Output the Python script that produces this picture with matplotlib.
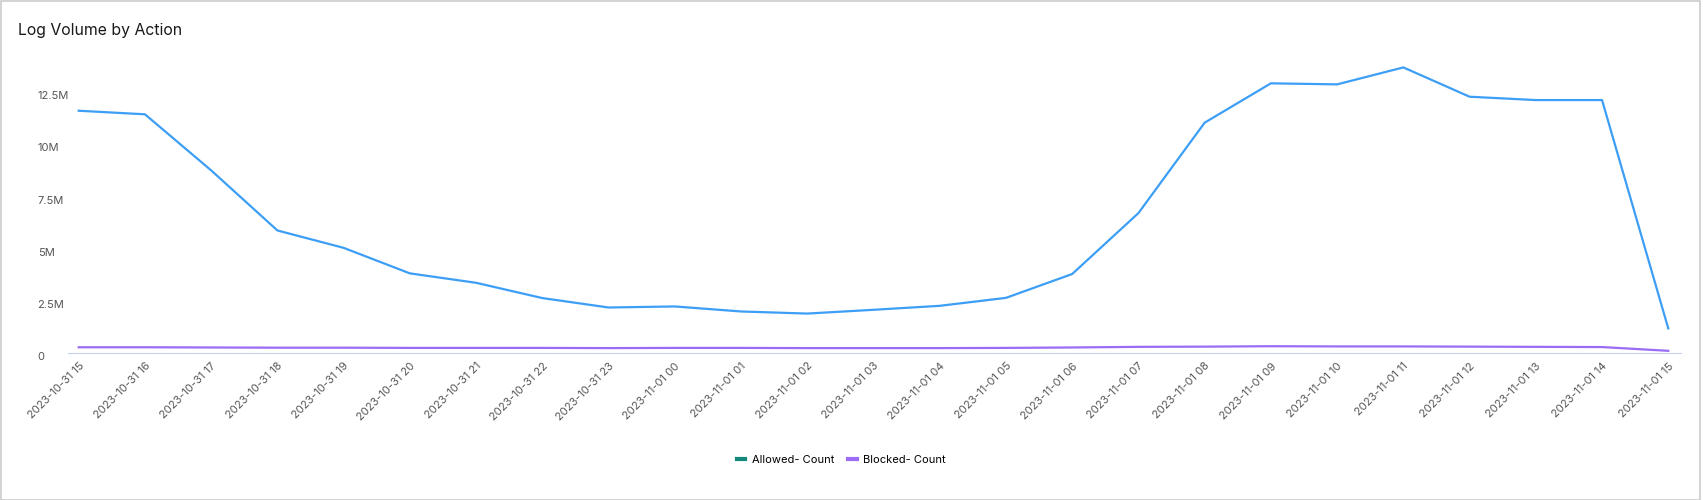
import numpy as np
import matplotlib.pyplot as plt
import matplotlib.transforms as mtrans
from matplotlib.lines import Line2D
from matplotlib.ticker import FuncFormatter

plt.rcParams['font.family'] = ['Inter', 'DejaVu Sans']

hours = ['2023-10-31 15', '2023-10-31 16', '2023-10-31 17', '2023-10-31 18', '2023-10-31 19',
         '2023-10-31 20', '2023-10-31 21', '2023-10-31 22', '2023-10-31 23', '2023-11-01 00',
         '2023-11-01 01', '2023-11-01 02', '2023-11-01 03', '2023-11-01 04', '2023-11-01 05',
         '2023-11-01 06', '2023-11-01 07', '2023-11-01 08', '2023-11-01 09', '2023-11-01 10',
         '2023-11-01 11', '2023-11-01 12', '2023-11-01 13', '2023-11-01 14', '2023-11-01 15']
allowed = [11.55, 11.38, 8.7, 5.83, 5.0, 3.78, 3.33, 2.6, 2.15, 2.2,
           1.96, 1.86, 2.04, 2.23, 2.61, 3.75, 6.66, 10.98, 12.86, 12.81,
           13.62, 12.22, 12.06, 12.06, 1.15]
blocked = [0.25, 0.25, 0.24, 0.23, 0.23, 0.22, 0.22, 0.22, 0.21, 0.22,
           0.22, 0.21, 0.21, 0.21, 0.22, 0.24, 0.27, 0.28, 0.30, 0.29,
           0.29, 0.28, 0.27, 0.26, 0.08]
allowed = np.array(allowed) * 1e6
blocked = np.array(blocked) * 1e6

fig = plt.figure(figsize=(17.03, 5.0), dpi=100)
ax = fig.add_axes([0.040, 0.295, 0.947, 0.607])

x = np.arange(len(hours))
ax.plot(x, allowed, color='#3d9ef5', lw=1.6)
ax.plot(x, blocked, color='#9b6cf5', lw=1.6)

ax.set_xlim(-0.16, len(hours) - 1 + 0.19)
ax.set_ylim(0, 14.5e6)
ax.set_yticks([0, 2.5e6, 5e6, 7.5e6, 10e6, 12.5e6])

def fmt(v, pos):
    if v == 0:
        return '0'
    s = '%g' % (v / 1e6)
    return s + 'M'

ax.yaxis.set_major_formatter(FuncFormatter(fmt))
ax.set_xticks(x)
ax.set_xticklabels(hours, rotation=45, ha='right', rotation_mode='anchor')
ax.tick_params(axis='both', length=0, labelsize=8, labelcolor='#555555')
ax.tick_params(axis='x', pad=6)
ax.tick_params(axis='y', pad=22)
# y labels sit a few px below their tick in the original
shift = mtrans.ScaledTranslation(0, -4 / 100, fig.dpi_scale_trans)
for lbl in ax.get_yticklabels():
    lbl.set_horizontalalignment('left')
    lbl.set_transform(lbl.get_transform() + shift)
for s in ['top', 'right', 'left']:
    ax.spines[s].set_visible(False)
ax.spines['bottom'].set_color('#c5d2ea')

fig.text(0.0106, 0.940, 'Log Volume by Action', fontsize=11.4, color='#1a1a1a', va='center')

handles = [Line2D([], [], color='#12897a', lw=3),
           Line2D([], [], color='#9b6cf5', lw=3)]
fig.legend(handles, ['Allowed- Count', 'Blocked- Count'], loc='center',
           bbox_to_anchor=(0.494, 0.08), ncol=2, frameon=False, fontsize=8,
           handlelength=0.8, handletextpad=0.6, columnspacing=1.2)

fig.patches.append(plt.Rectangle((0.0005, 0.001), 0.998, 0.997, transform=fig.transFigure,
                                 fill=False, edgecolor='#cccccc', lw=1.2))

fig.savefig('out.png', dpi=100)
